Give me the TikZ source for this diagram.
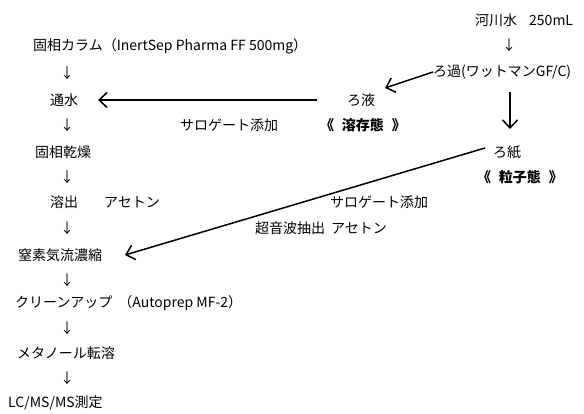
\documentclass[tikz,border=0pt]{standalone}
\usepackage{fontspec}
\setmainfont{Noto Sans CJK JP}
\usetikzlibrary{arrows.meta}
\begin{document}
\begin{tikzpicture}[x=1pt,y=-1pt,
  txt/.style={inner sep=0pt,anchor=west,font=\fontsize{14}{16}\selectfont},
  dn/.style={inner sep=0pt,font=\fontsize{14}{16}\selectfont},
  bld/.style={inner sep=0pt,font=\fontsize{14}{16}\selectfont\bfseries},
  arr/.style={line width=1.5pt,-{Straight Barb[length=8pt,width=15pt,line width=1.5pt]}},
  ln/.style={line width=1.5pt}]
\useasboundingbox (0,0) rectangle (584,414);
% left column
\node[txt] (col) at (33,46) {固相カラム（InertSep Pharma FF 500mg）};
\node[dn] (d1) at (67,73) {↓};
\node[txt] (tsu) at (50,100) {通水};
\node[dn] (d2) at (67,125) {↓};
\node[txt] (kan) at (35,152) {固相乾燥};
\node[dn] (d3) at (67,177) {↓};
\node[txt] (yo) at (50,202) {溶出\hspace{26pt}アセトン};
\node[dn] (d4) at (67,228) {↓};
\node[txt] (chi) at (18,255) {窒素気流濃縮};
\node[dn] (d5) at (67,280) {↓};
\node[txt] (cl) at (15,303) {クリーンアップ\hspace{6pt}（Autoprep MF-2）};
\node[dn] (d6) at (67,328) {↓};
\node[txt] (me) at (17,353) {メタノール転溶};
\node[dn] (d7) at (67,378) {↓};
\node[txt] (lc) at (8,403) {LC/MS/MS測定};
% right part
\node[txt] (kawa) at (475,20) {河川水\hspace{12pt}250mL};
\node[dn] (d8) at (509,45) {↓};
\node[txt] (roka) at (433,72) {ろ過(ワットマンGF/C)};
\node[txt] (roeki) at (347,100) {ろ液};
\node[bld] (yozon) at (363,125) {《\hspace{8pt}溶存態\hspace{8pt}》};
\node[txt] (sur1) at (180,125) {サロゲート添加};
\node[txt] (roshi) at (493,152) {ろ紙};
\node[bld] (ryushi) at (520,177) {《\hspace{8pt}粒子態\hspace{8pt}》};
\node[txt] (sur2) at (330,202) {サロゲート添加};
\node[txt] (cho) at (255,228) {超音波抽出\hspace{6pt}アセトン};
% connectors
\coordinate (a1) at (roka.west);
\coordinate (a2) at (385,88);
\draw[arr] (a1) -- (a2);
\coordinate (b1) at (317,100);
\coordinate (b2) at (98,100);
\draw[arr] (b1) -- (b2);
\coordinate (c1) at (510,92);
\coordinate (c2) at (510,129);
\draw[arr] (c1) -- (c2);
\coordinate (e1) at (485,148);
\coordinate (e2) at (125,255);
\draw[arr] (e1) -- (e2);
\end{tikzpicture}
\end{document}
